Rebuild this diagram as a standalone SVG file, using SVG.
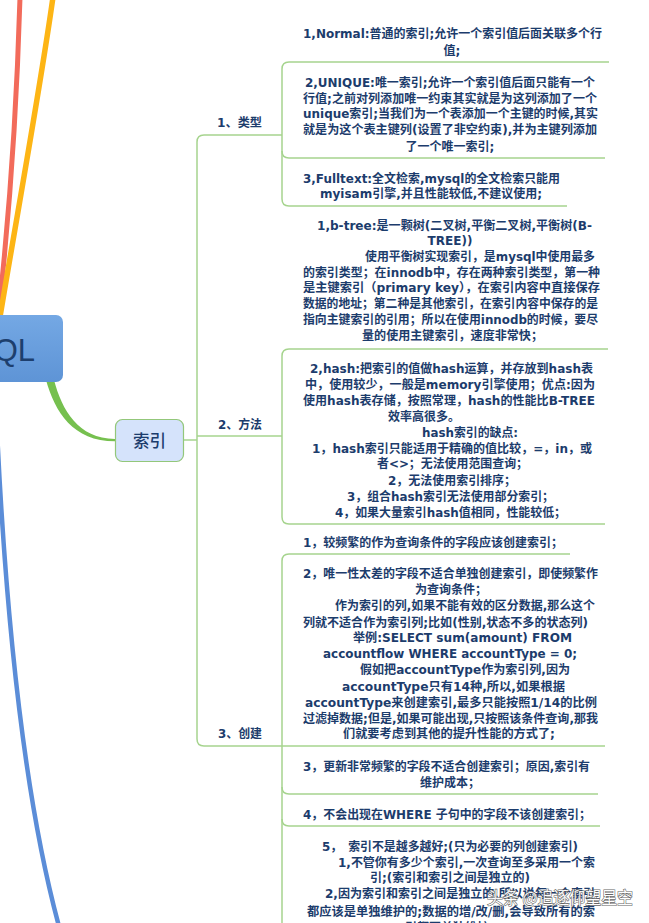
<svg xmlns="http://www.w3.org/2000/svg" width="649" height="923" viewBox="0 0 649 923">
<style>
.t{font-family:"DejaVu Sans","Noto Sans CJK SC",sans-serif;font-size:12px;font-weight:bold;fill:#1c3c6c}
.br{fill:none;stroke:#a6d48e;stroke-width:1.5}
.b{font-family:"DejaVu Sans","Noto Sans CJK SC",sans-serif;font-size:12px;font-weight:bold;fill:#1c3c6c}
</style>
<defs>
<linearGradient id="sqlg" x1="0" y1="0" x2="0" y2="1">
<stop offset="0" stop-color="#74a8e4"/>
<stop offset="1" stop-color="#5e94d6"/>
</linearGradient>
</defs>
<rect width="649" height="923" fill="#ffffff"/>
<g id="connectors">
<path d="M20,-3 C17,100 9,220 -2,318" fill="none" stroke="#f26b5b" stroke-width="5"/>
<path d="M53,-3 C40,90 16,220 -3,335" fill="none" stroke="#fdb515" stroke-width="5.5"/>
<path d="M-3,430 C6,620 24,800 60,930" fill="none" stroke="#5b8dd8" stroke-width="4.5"/>
<path d="M46,380 C55,412 73,441.3 115,441.3 L115,439 C78,438.5 62,410 54,380 Z" fill="#76c04f"/>
<path class="br" d="M184,440 H197"/>
<path class="br" d="M282,135 H204 Q197,135 197,142 V739 Q197,746 204,746 H282"/>
<path class="br" d="M197,436 H282"/>
<path class="br" d="M609,62 H289 Q282,62 282,69 V199 Q282,206 289,206 H567"/>
<path class="br" d="M282,151 Q282,158 289,158 H605"/>
<path class="br" d="M608,349 H289 Q282,349 282,356 V517 Q282,524 289,524 H605"/>
<path class="br" d="M570,554 H289 Q282,554 282,561 V925"/>
<path class="br" d="M282,746 H605"/>
<path class="br" d="M282,787 Q282,794 289,794 H598"/>
<path class="br" d="M282,819 Q282,826 289,826 H600"/>
</g>
<g id="node-mysql">
<rect x="-10" y="315" width="73" height="67" rx="7" fill="url(#sqlg)"/>
<text x="35" y="361" text-anchor="end" font-family="Liberation Sans, sans-serif" font-size="31" fill="#1d3f6e">QL</text>
</g>
<g id="node-suoyin">
<rect x="115.5" y="419.5" width="68" height="42" rx="7" fill="#d5e3fb" stroke="#93c77a" stroke-width="1.2"/>
<text x="149.5" y="446.5" text-anchor="middle" font-family="Noto Sans CJK SC, sans-serif" font-size="16.5" font-weight="500" fill="#1c3c6c">索引</text>
</g>
<g id="branch-leixing"><text class="b" x="217" y="126.5" textLength="45" lengthAdjust="spacingAndGlyphs">1、类型</text></g>
<g id="branch-fangfa"><text class="b" x="218" y="428.5" textLength="44" lengthAdjust="spacingAndGlyphs">2、方法</text></g>
<g id="branch-chuangjian"><text class="b" x="218" y="737.5" textLength="44" lengthAdjust="spacingAndGlyphs">3、创建</text></g>
<g id="leaf-normal">
<text class="t" x="303" y="38" textLength="299" lengthAdjust="spacingAndGlyphs">1,Normal:普通的索引;允许一个索引值后面关联多个行</text>
<text class="t" x="452" y="54.5" text-anchor="middle">值;</text>
</g>
<g id="leaf-unique">
<text class="t" x="305" y="86.5" textLength="290" lengthAdjust="spacingAndGlyphs">2,UNIQUE:唯一索引;允许一个索引值后面只能有一个</text>
<text class="t" x="303" y="102.5" textLength="294" lengthAdjust="spacingAndGlyphs">行值;之前对列添加唯一约束其实就是为这列添加了一个</text>
<text class="t" x="303" y="117.5" textLength="295" lengthAdjust="spacingAndGlyphs">unique索引;当我们为一个表添加一个主键的时候,其实</text>
<text class="t" x="303" y="133.5" textLength="294" lengthAdjust="spacingAndGlyphs">就是为这个表主键列(设置了非空约束),并为主键列添加</text>
<text class="t" x="450" y="150.5" text-anchor="middle">了一个唯一索引;</text>
</g>
<g id="leaf-fulltext">
<text class="t" x="303" y="182.5" textLength="257" lengthAdjust="spacingAndGlyphs">3,Fulltext:全文检索,mysql的全文检索只能用</text>
<text class="t" x="320" y="197.5" textLength="222" lengthAdjust="spacingAndGlyphs">myisam引擎,并且性能较低,不建议使用;</text>
</g>
<g id="leaf-btree">
<text class="t" x="317" y="229.5" textLength="275" lengthAdjust="spacingAndGlyphs">1,b-tree:是一颗树(二叉树,平衡二叉树,平衡树(B-</text>
<text class="t" x="450" y="244.5" text-anchor="middle">TREE))</text>
<text class="t" x="365" y="260.5" textLength="230" lengthAdjust="spacingAndGlyphs">使用平衡树实现索引，是mysql中使用最多</text>
<text class="t" x="303" y="276.5" textLength="297" lengthAdjust="spacingAndGlyphs">的索引类型；在innodb中，存在两种索引类型，第一种</text>
<text class="t" x="303" y="291.5" textLength="297" lengthAdjust="spacingAndGlyphs">是主键索引（primary key），在索引内容中直接保存</text>
<text class="t" x="303" y="307.5" textLength="295" lengthAdjust="spacingAndGlyphs">数据的地址；第二种是其他索引，在索引内容中保存的是</text>
<text class="t" x="303" y="323.5" textLength="295" lengthAdjust="spacingAndGlyphs">指向主键索引的引用；所以在使用innodb的时候，要尽</text>
<text class="t" x="362" y="339.5" textLength="181" lengthAdjust="spacingAndGlyphs">量的使用主键索引，速度非常快；</text>
</g>
<g id="leaf-hash">
<text class="t" x="310" y="372.5" textLength="283" lengthAdjust="spacingAndGlyphs">2,hash:把索引的值做hash运算，并存放到hash表</text>
<text class="t" x="305" y="388.5" textLength="290" lengthAdjust="spacingAndGlyphs">中，使用较少，一般是memory引擎使用；优点:因为</text>
<text class="t" x="303" y="404.5" textLength="292" lengthAdjust="spacingAndGlyphs">使用hash表存储，按照常理，hash的性能比B-TREE</text>
<text class="t" x="388" y="420.5">效率高很多。</text>
<text class="t" x="422" y="436.5" textLength="96" lengthAdjust="spacingAndGlyphs">hash索引的缺点:</text>
<text class="t" x="312" y="452.5" textLength="280" lengthAdjust="spacingAndGlyphs">1，hash索引只能适用于精确的值比较，=，in，或</text>
<text class="t" x="377" y="467.5" textLength="151" lengthAdjust="spacingAndGlyphs">者&lt;&gt;；无法使用范围查询；</text>
<text class="t" x="388" y="484.5" textLength="128" lengthAdjust="spacingAndGlyphs">2，无法使用索引排序；</text>
<text class="t" x="347" y="500.5" textLength="207" lengthAdjust="spacingAndGlyphs">3，组合hash索引无法使用部分索引；</text>
<text class="t" x="335" y="516.5" textLength="231" lengthAdjust="spacingAndGlyphs">4，如果大量索引hash值相同，性能较低；</text>
</g>
<g id="leaf-create-1">
<text class="t" x="303" y="546.5" textLength="260" lengthAdjust="spacingAndGlyphs">1，较频繁的作为查询条件的字段应该创建索引；</text>
</g>
<g id="leaf-create-2">
<text class="t" x="303" y="577.5" textLength="295" lengthAdjust="spacingAndGlyphs">2，唯一性太差的字段不适合单独创建索引，即使频繁作</text>
<text class="t" x="415" y="593.5">为查询条件；</text>
<text class="t" x="335" y="609.5" textLength="260" lengthAdjust="spacingAndGlyphs">作为索引的列,如果不能有效的区分数据,那么这个</text>
<text class="t" x="303" y="626.5" textLength="285" lengthAdjust="spacingAndGlyphs">列就不适合作为索引列;比如(性别,状态不多的状态列)</text>
<text class="t" x="353" y="641.5" textLength="219" lengthAdjust="spacingAndGlyphs">举例:SELECT sum(amount) FROM</text>
<text class="t" x="323" y="657.5" textLength="254" lengthAdjust="spacingAndGlyphs">accountflow WHERE accountType = 0;</text>
<text class="t" x="360" y="673.5" textLength="210" lengthAdjust="spacingAndGlyphs">假如把accountType作为索引列,因为</text>
<text class="t" x="342" y="690.5" textLength="223" lengthAdjust="spacingAndGlyphs">accountType只有14种,所以,如果根据</text>
<text class="t" x="305" y="706.5" textLength="292" lengthAdjust="spacingAndGlyphs">accountType来创建索引,最多只能按照1/14的比例</text>
<text class="t" x="303" y="722.5" textLength="295" lengthAdjust="spacingAndGlyphs">过滤掉数据;但是,如果可能出现,只按照该条件查询,那我</text>
<text class="t" x="343" y="737.5" textLength="212" lengthAdjust="spacingAndGlyphs">们就要考虑到其他的提升性能的方式了;</text>
</g>
<g id="leaf-create-3">
<text class="t" x="303" y="770.5" textLength="287" lengthAdjust="spacingAndGlyphs">3，更新非常频繁的字段不适合创建索引；原因,索引有</text>
<text class="t" x="420" y="786.5">维护成本；</text>
</g>
<g id="leaf-create-4">
<text class="t" x="303" y="818.5" textLength="288" lengthAdjust="spacingAndGlyphs">4，不会出现在WHERE 子句中的字段不该创建索引；</text>
</g>
<g id="leaf-create-5">
<text class="t" x="322" y="850.5" textLength="256" lengthAdjust="spacingAndGlyphs">5，　索引不是越多越好;(只为必要的列创建索引)</text>
<text class="t" x="338" y="866.5" textLength="257" lengthAdjust="spacingAndGlyphs">1,不管你有多少个索引,一次查询至多采用一个索</text>
<text class="t" x="370" y="881.5" textLength="160" lengthAdjust="spacingAndGlyphs">引;(索引和索引之间是独立的)</text>
<text class="t" x="325" y="897.5" textLength="270" lengthAdjust="spacingAndGlyphs">2,因为索引和索引之间是独立的,所以说每一个索引</text>
<text class="t" x="307" y="915.5" textLength="288" lengthAdjust="spacingAndGlyphs">都应该是单独维护的;数据的增/改/删,会导致所有的索</text>
<text class="t" x="405" y="932">引都要单独维护;</text>
</g>
<g id="watermark">
<text x="487" y="904" textLength="146" lengthAdjust="spacingAndGlyphs" font-family="Noto Sans CJK SC, sans-serif" font-size="17" fill="#ffffff" stroke="#555555" stroke-width="1.2" paint-order="stroke" opacity="0.9">头条 @追逐仰望星空</text>
</g>
</svg>
